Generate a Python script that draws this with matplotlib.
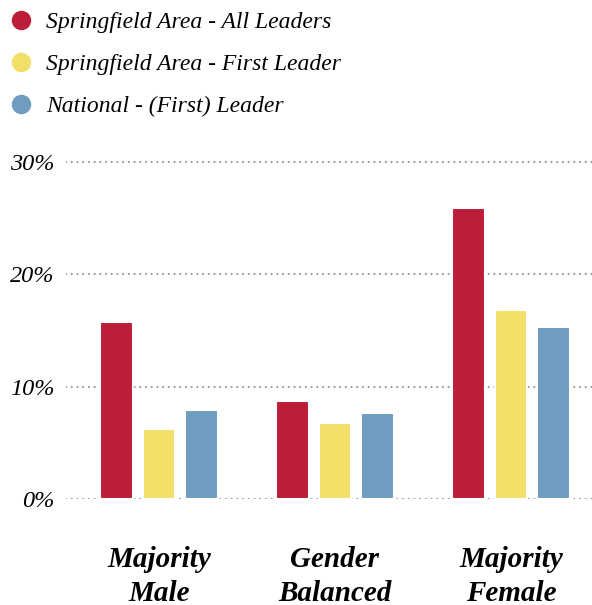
import matplotlib
matplotlib.use("Agg")
import matplotlib.pyplot as plt
from matplotlib.lines import Line2D
import numpy as np

categories = ["Majority\nMale", "Gender\nBalanced", "Majority\nFemale"]
series_names = ["Springfield Area - All Leaders", "Springfield Area - First Leader", "National - (First) Leader"]
all_leaders = [15.8, 8.7, 25.9]
first_leader = [6.2, 6.8, 16.8]
national = [7.9, 7.7, 15.3]
yticks = [0, 10, 20, 30]
ytick_labels = ["0%", "10%", "20%", "30%"]
colors = ["#BC1E3A", "#F1DF68", "#6F9DBF"]

plt.rcParams['font.family'] = ['Liberation Serif', 'DejaVu Serif']

W, H = 592, 605
fig = plt.figure(figsize=(W/100, H/100), dpi=100)
ax = fig.add_axes([66/W, 1-499/H, 1-66/W, (499-156.4)/H])

x = np.arange(len(categories))
bw = 0.185
off = 0.2415
for i, (vals, c) in enumerate(zip([all_leaders, first_leader, national], colors)):
    ax.bar(x + (i-1)*off, vals, width=bw, color=c, edgecolor='white', linewidth=1.5, zorder=3)

ax.set_xlim(-0.528, 2.46)
ax.set_ylim(0, 30.5)
ax.set_yticks(yticks)
ax.set_yticklabels(ytick_labels, fontsize=17.5, style='italic')
ax.set_xticks(x)
ax.set_xticklabels(categories, fontsize=21, style='italic', fontweight='bold', linespacing=1.3)
ax.tick_params(axis='both', length=0)
ax.tick_params(axis='y', pad=8)
ax.tick_params(axis='x', pad=34)
for s in ax.spines.values():
    s.set_visible(False)
ax.yaxis.grid(True, color='#9a9a9a', linestyle=(0, (0.01, 2.56)), linewidth=1.6, dash_capstyle='round', zorder=0)
ax.set_axisbelow(True)

handles = [Line2D([0], [0], marker='o', linestyle='none', markersize=13, markerfacecolor=c, markeredgecolor=c) for c in colors]
fig.legend(handles, series_names, loc='upper left', bbox_to_anchor=(-0.0165, 1.008), frameon=False,
           prop={'size': 17, 'style': 'italic'}, labelspacing=0.87, handletextpad=0.45, borderaxespad=0.3,
           handlelength=1.2)

fig.savefig("out.png", dpi=100)
